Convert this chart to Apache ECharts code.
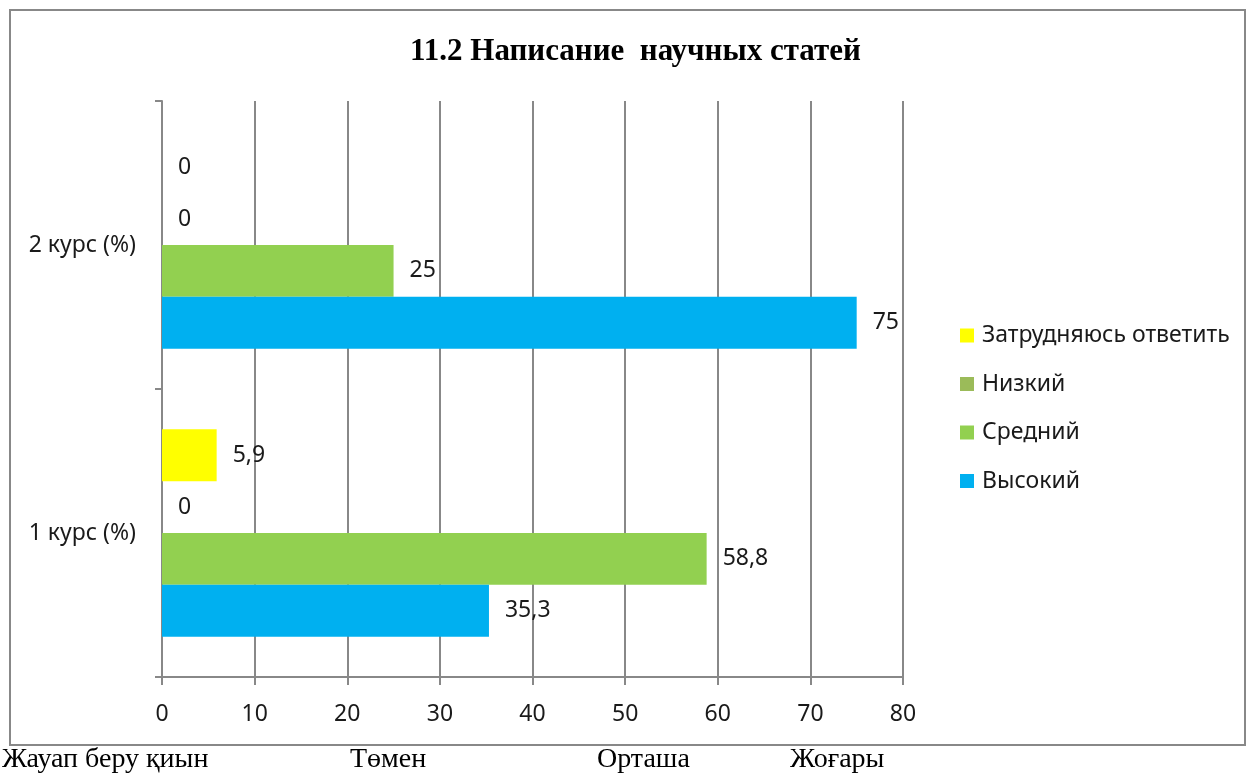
<!DOCTYPE html>
<html>
<head>
<meta charset="utf-8">
<script src="https://cdn.jsdelivr.net/npm/echarts@6/dist/echarts.min.js"></script>
<style>
  html, body { margin: 0; padding: 0; background: #fff; }
  #chart { width: 1248px; height: 774px; }
</style>
</head>
<body>
<div id="chart"></div>
<script>
// данные
let courses = ["1 курс (%)", "2 курс (%)"];
let high = [35.3, 75];
let medium = [58.8, 25];
let low = [0, 0];
let unsure = [5.9, 0];
let xTicks = [0, 10, 20, 30, 40, 50, 60, 70, 80];
let bottomNotes = ["Жауап беру қиын", "Төмен", "Орташа", "Жоғары"];

let chart = echarts.init(document.getElementById("chart"));

let labelStyle = {
  show: true,
  position: "right",
  distance: 16,
  fontFamily: "Noto Sans",
  fontSize: 23,
  color: "#1a1a1a",
  formatter: p => String(p.value).replace(".", ",")
};

function makeSeries(name, data, color) {
  return {
    name: name,
    type: "bar",
    data: data,
    barGap: 0,
    barCategoryGap: "28%",
    itemStyle: { color: color },
    label: labelStyle
  };
}

let notePos = [2, 350, 597, 790];

chart.setOption({
  animation: false,
  backgroundColor: "#fff",
  title: {
    text: "11.2 Написание  научных статей",
    left: 405,
    top: 31,
    textStyle: {
      fontFamily: "Liberation Serif",
      fontWeight: "bold",
      fontSize: 31,
      color: "#000"
    }
  },
  legend: {
    orient: "vertical",
    left: 955,
    top: 319,
    itemWidth: 14,
    itemHeight: 14,
    itemGap: 25.5,
    icon: "rect",
    data: ["Затрудняюсь ответить", "Низкий", "Средний", "Высокий"],
    textStyle: { fontFamily: "Noto Sans", fontSize: 23, color: "#1a1a1a", padding: [0, 0, 0, 3] }
  },
  grid: { left: 162, right: 345, top: 101, bottom: 97 },
  xAxis: {
    type: "value",
    min: 0,
    max: 80,
    interval: 10,
    axisLine: { show: true, lineStyle: { color: "#888", width: 2 } },
    axisTick: { show: true, length: 8, lineStyle: { color: "#888", width: 2 } },
    splitLine: { show: true, lineStyle: { color: "#888", width: 2 } },
    axisLabel: {
      margin: 26,
      fontFamily: "Noto Sans",
      fontSize: 23,
      color: "#1a1a1a",
      formatter: v => xTicks.includes(v) ? String(v) : ""
    }
  },
  yAxis: {
    type: "category",
    data: courses,
    axisLine: { show: true, lineStyle: { color: "#888", width: 2 } },
    axisTick: { show: true, length: 7, lineStyle: { color: "#888", width: 2 } },
    axisLabel: {
      margin: 26,
      fontFamily: "Noto Sans",
      fontSize: 23,
      color: "#1a1a1a"
    }
  },
  // первая серия рисуется сверху
  series: [
    makeSeries("Затрудняюсь ответить", unsure, "#FFFF00"),
    makeSeries("Низкий", low, "#9BBB59"),
    makeSeries("Средний", medium, "#92D050"),
    makeSeries("Высокий", high, "#00B0F0")
  ],
  graphic: [
    {
      type: "rect",
      shape: { x: 10, y: 10, width: 1235, height: 735 },
      style: { fill: "none", stroke: "#888", lineWidth: 2 },
      silent: true
    }
  ].concat(bottomNotes.map((t, i) => ({
    type: "text",
    left: notePos[i],
    top: 746,
    style: {
      text: t,
      fontFamily: "Liberation Serif",
      fontSize: 28,
      fill: "#000"
    }
  })))
});
</script>
</body>
</html>
